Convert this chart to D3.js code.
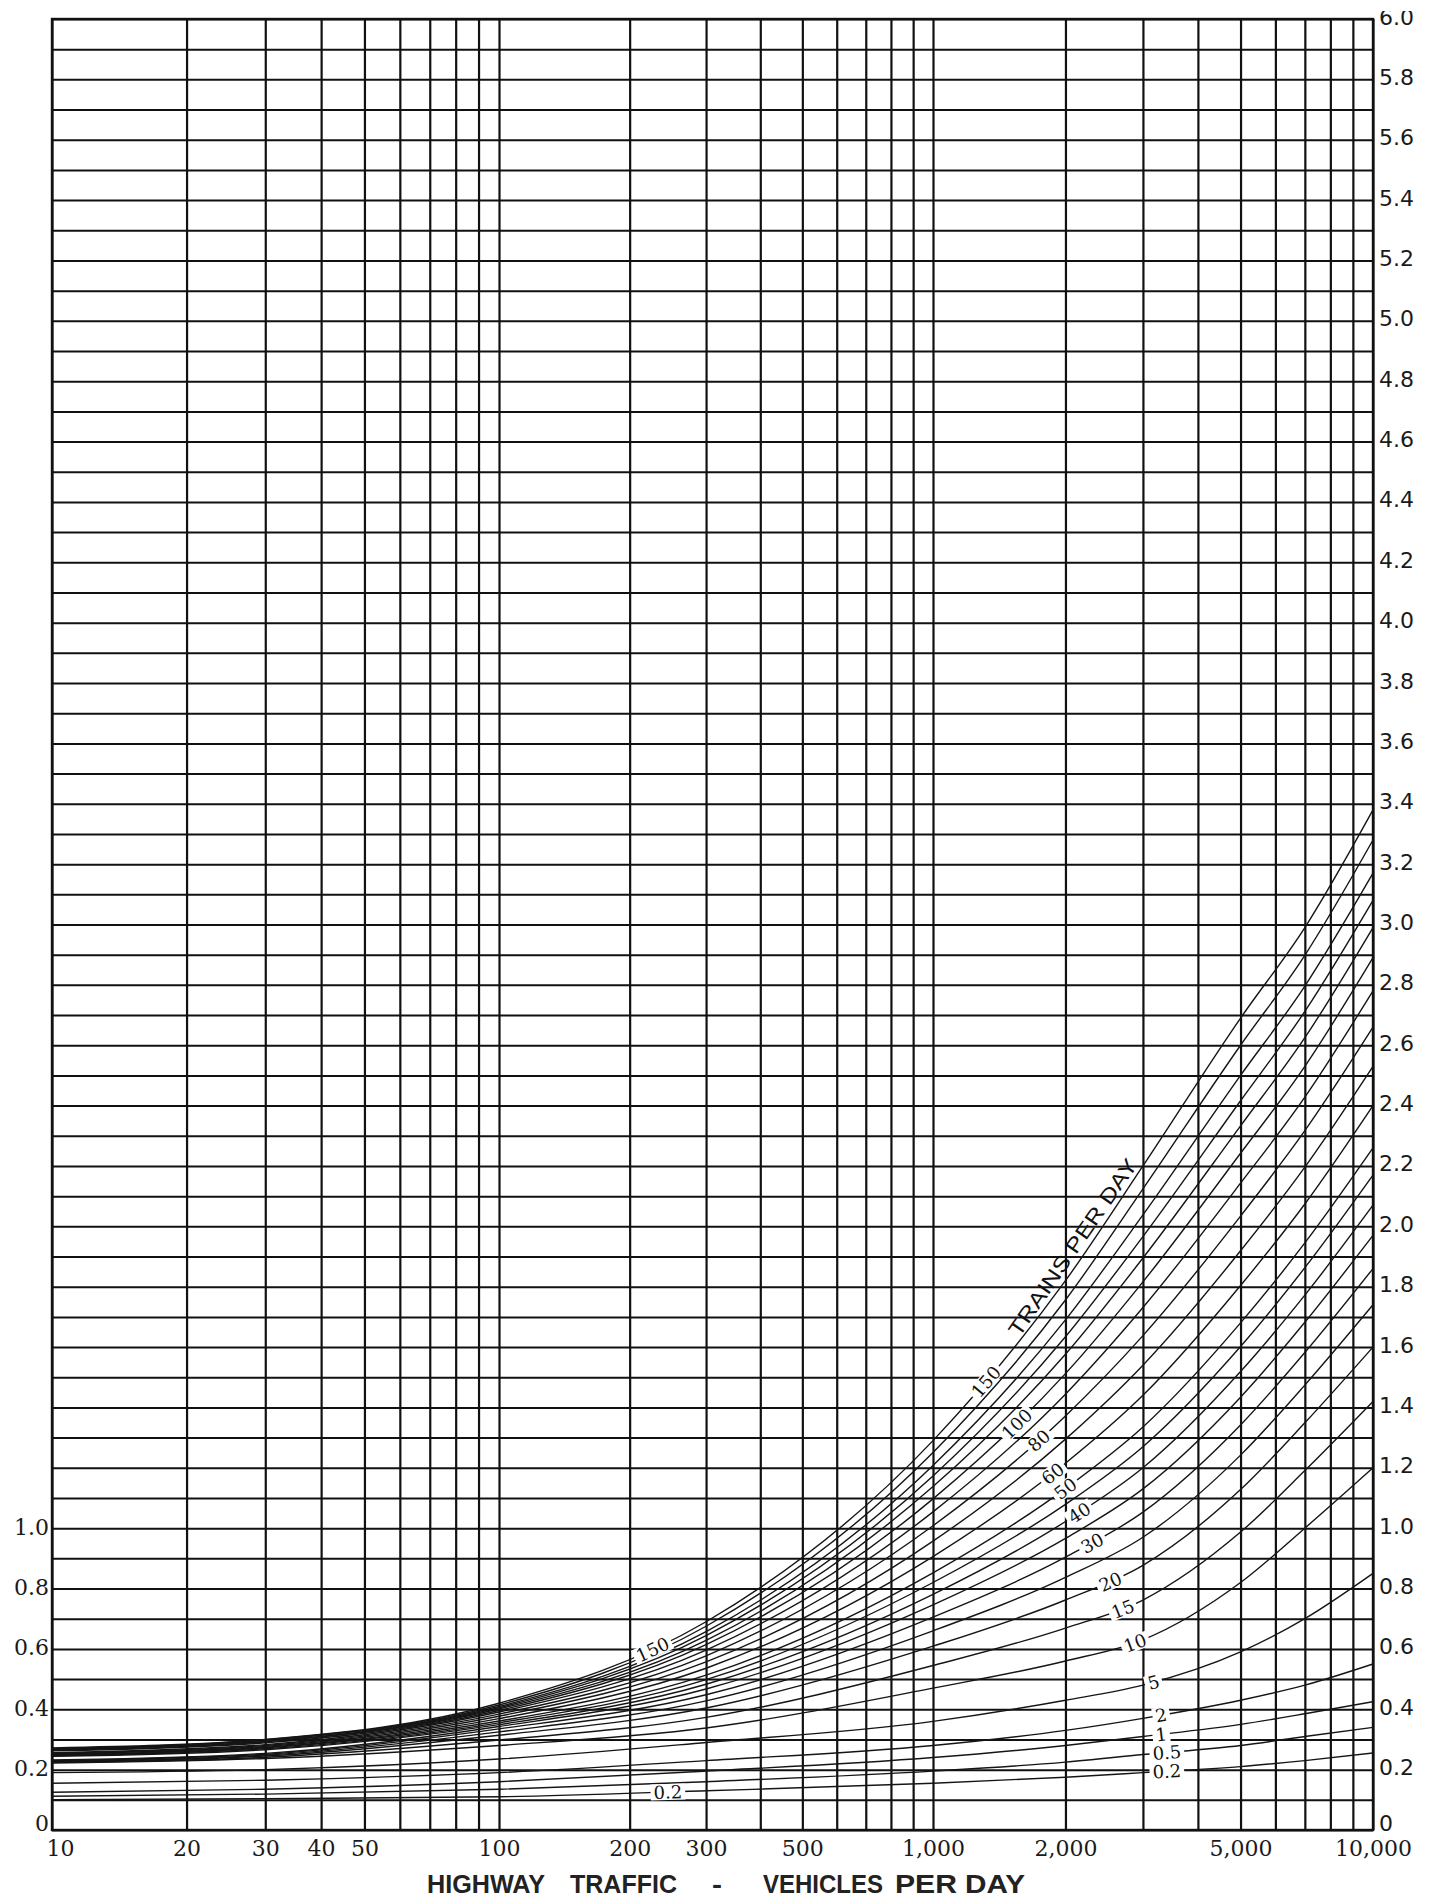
<!DOCTYPE html>
<html><head><meta charset="utf-8">
<script src="https://cdn.jsdelivr.net/npm/d3@7"></script>
<style>
html,body{margin:0;padding:0;background:#fff;}
svg{display:block;}
</style></head><body>
<svg id="chart" width="1437" height="1901"></svg>
<script>
// ---------- DATA ----------
const volumes = [10, 30, 100, 300, 1000, 2000, 3000, 5000, 7000, 10000];
const trainCounts = [0.2, 0.5, 1, 2, 5, 10, 15, 20, 25, 30, 35, 40, 45, 50, 60, 70, 80, 90, 100, 110, 120, 130, 140, 150];
const t0_2 = [0.10, 0.104, 0.11, 0.13, 0.155, 0.175, 0.19, 0.21, 0.23, 0.255];
const t0_5 = [0.112, 0.119, 0.135, 0.16, 0.195, 0.225, 0.25, 0.28, 0.31, 0.34];
const t1   = [0.125, 0.135, 0.16, 0.195, 0.24, 0.28, 0.31, 0.35, 0.385, 0.425];
const t2   = [0.155, 0.165, 0.19, 0.23, 0.28, 0.33, 0.37, 0.43, 0.48, 0.55];
const t5   = [0.19, 0.20, 0.235, 0.29, 0.36, 0.43, 0.48, 0.59, 0.70, 0.85];
const t10  = [0.222, 0.237, 0.28, 0.338, 0.47, 0.56, 0.63, 0.82, 1.00, 1.20];
const t15  = [0.224, 0.241, 0.298, 0.373, 0.545, 0.669, 0.762, 0.987, 1.191, 1.42];
const t20  = [0.226, 0.245, 0.314, 0.404, 0.609, 0.762, 0.877, 1.128, 1.349, 1.60];
const t25  = [0.228, 0.248, 0.325, 0.428, 0.66, 0.837, 0.97, 1.242, 1.474, 1.74];
const t30  = [0.23, 0.251, 0.335, 0.448, 0.705, 0.904, 1.053, 1.342, 1.582, 1.86];
const t35  = [0.232, 0.254, 0.343, 0.467, 0.746, 0.966, 1.13, 1.434, 1.682, 1.97];
const t40  = [0.244, 0.266, 0.349, 0.483, 0.781, 1.022, 1.2, 1.519, 1.772, 2.07];
const t45  = [0.246, 0.269, 0.355, 0.498, 0.82, 1.079, 1.27, 1.602, 1.863, 2.17];
const t50  = [0.248, 0.272, 0.361, 0.513, 0.852, 1.131, 1.335, 1.68, 1.945, 2.26];
const t60  = [0.25, 0.274, 0.369, 0.536, 0.906, 1.215, 1.44, 1.804, 2.074, 2.40];
const t70  = [0.252, 0.277, 0.377, 0.557, 0.957, 1.295, 1.54, 1.919, 2.196, 2.53];
const t80  = [0.254, 0.28, 0.384, 0.577, 1.008, 1.372, 1.638, 2.034, 2.317, 2.66];
const t90  = [0.256, 0.283, 0.391, 0.596, 1.054, 1.444, 1.731, 2.143, 2.428, 2.78];
const t100 = [0.262, 0.289, 0.396, 0.614, 1.097, 1.512, 1.816, 2.242, 2.53, 2.89];
const t110 = [0.264, 0.292, 0.401, 0.628, 1.138, 1.576, 1.895, 2.333, 2.625, 2.99];
const t120 = [0.266, 0.294, 0.405, 0.644, 1.173, 1.634, 1.966, 2.416, 2.712, 3.08];
const t130 = [0.268, 0.297, 0.409, 0.657, 1.208, 1.69, 2.038, 2.5, 2.796, 3.17];
const t140 = [0.27, 0.299, 0.414, 0.675, 1.251, 1.756, 2.124, 2.6, 2.898, 3.28];
const t150 = [0.272, 0.30, 0.42, 0.69, 1.29, 1.82, 2.20, 2.69, 2.99, 3.38];
const seriesList = [t0_2, t0_5, t1, t2, t5, t10, t15, t20, t25, t30, t35, t40, t45, t50, t60, t70, t80, t90, t100, t110, t120, t130, t140, t150];

// curve labels (train count, volume where the label sits)
const labelTrains  = [150, 100, 80, 60, 50, 40, 30, 20, 15, 10, 5, 2, 1, 0.5, 0.2];
const labelVolumes = [1320, 1550, 1740, 1870, 2000, 2150, 2300, 2530, 2700, 2880, 3170, 3300, 3300, 3400, 3400];
const labelTexts   = ["150", "100", "80", "60", "50", "40", "30", "20", "15", "10", "5", "2", "1", "0.5", "0.2"];
const lowLabelTrains  = [150, 0.2];
const lowLabelVolumes = [226, 245];
const lowLabelTexts   = ["150", "0.2"];
const seriesTitle = "TRAINS PER DAY";
const seriesTitleVolume = 2200;

// grid and tick labels
const xGridValues = [10,20,30,40,50,60,70,80,90,100,200,300,400,500,600,700,800,900,1000,2000,3000,4000,5000,6000,7000,8000,9000,10000];
const xTickValues = [10, 20, 30, 40, 50, 100, 200, 300, 500, 1000, 2000, 5000, 10000];
const xTickLabels = ["10", "20", "30", "40", "50", "100", "200", "300", "500", "1,000", "2,000", "5,000", "10,000"];
const yGridValues = d3.range(0, 61).map(i => i / 10);
const rightTickValues = [0,0.2,0.4,0.6,0.8,1.0,1.2,1.4,1.6,1.8,2.0,2.2,2.4,2.6,2.8,3.0,3.2,3.4,3.6,3.8,4.0,4.2,4.4,4.6,4.8,5.0,5.2,5.4,5.6,5.8,6.0];
const rightTickLabels = ["0","0.2","0.4","0.6","0.8","1.0","1.2","1.4","1.6","1.8","2.0","2.2","2.4","2.6","2.8","3.0","3.2","3.4","3.6","3.8","4.0","4.2","4.4","4.6","4.8","5.0","5.2","5.4","5.6","5.8","6.0"];
const leftTickValues = [0, 0.2, 0.4, 0.6, 0.8, 1.0];
const leftTickLabels = ["0", "0.2", "0.4", "0.6", "0.8", "1.0"];
const titleWords = ["HIGHWAY", "TRAFFIC", "-", "VEHICLES", "PER", "DAY"];

// ---------- LAYOUT ----------
const W = 1437, H = 1901;
const L = 52, R = 1373, T = 19, B = 1830;
const svg = d3.select("#chart");
const x = d3.scaleLog().domain([10, 100, 1000, 10000]).range([L, 499, 933, R]);
const y = d3.scaleLinear().domain([0, 6]).range([B, T]);

// grid via axes
const vGrid = svg.append("g").attr("transform", `translate(0,${B})`)
  .call(d3.axisBottom(x).tickValues(xGridValues).tickSize(-(B - T)).tickFormat(""));
vGrid.select(".domain").remove();
vGrid.selectAll("line").attr("stroke", "#111").attr("stroke-width", 2.2);

const hGrid = svg.append("g").attr("transform", `translate(${R},0)`)
  .call(d3.axisRight(y).tickValues(yGridValues).tickSize(-(R - L)).tickFormat(""));
hGrid.select(".domain").remove();
hGrid.selectAll("line").attr("stroke", "#111").attr("stroke-width", 2);

// border
svg.append("rect").attr("x", L).attr("y", T).attr("width", R - L).attr("height", B - T)
  .attr("fill", "none").attr("stroke", "#111").attr("stroke-width", 2.4);

// curves
const line = d3.line().x(d => x(d[0])).y(d => y(d[1])).curve(d3.curveMonotoneX);
const curves = trainCounts.map((t, i) => ({ t, pts: volumes.map((v, j) => [v, seriesList[i][j]]) }));
const curveG = svg.append("g");
const paths = {};
curves.forEach(c => {
  paths[c.t] = curveG.append("path").attr("d", line(c.pts))
    .attr("fill", "none").attr("stroke", "#151515").attr("stroke-width", 1.4).node();
});

function pointAtX(node, tx) {
  const len = node.getTotalLength();
  let lo = 0, hi = len;
  for (let k = 0; k < 40; k++) {
    const m = (lo + hi) / 2;
    if (node.getPointAtLength(m).x < tx) lo = m; else hi = m;
  }
  const m = (lo + hi) / 2;
  const p = node.getPointAtLength(m);
  const a = node.getPointAtLength(Math.max(0, m - 5));
  const b = node.getPointAtLength(Math.min(len, m + 5));
  return { x: p.x, y: p.y, angle: Math.atan2(b.y - a.y, b.x - a.x) * 180 / Math.PI };
}

function curveLabel(t, vol, txt) {
  const p = pointAtX(paths[t], x(vol));
  const g = svg.append("g").attr("transform", `translate(${p.x},${p.y}) rotate(${p.angle})`);
  const rect = g.append("rect").attr("fill", "#fff");
  const tx = g.append("text").text(txt)
    .attr("text-anchor", "middle").attr("dominant-baseline", "central")
    .attr("font-family", "DejaVu Serif, serif").attr("font-size", 18).attr("fill", "#111");
  const bb = tx.node().getBBox();
  rect.attr("x", bb.x - 3).attr("y", -8).attr("width", bb.width + 6).attr("height", 16);
}
labelTrains.forEach((t, i) => curveLabel(t, labelVolumes[i], labelTexts[i]));
lowLabelTrains.forEach((t, i) => curveLabel(t, lowLabelVolumes[i], lowLabelTexts[i]));

// series title along top curve
{
  const p = pointAtX(paths[150], x(seriesTitleVolume));
  svg.append("text").text(seriesTitle)
    .attr("transform", `translate(${p.x},${p.y}) rotate(${p.angle})`)
    .attr("y", -6).attr("text-anchor", "middle")
    .attr("font-family", "Liberation Sans, Arial, sans-serif").attr("font-size", 21)
    .attr("textLength", 210).attr("lengthAdjust", "spacingAndGlyphs").attr("fill", "#111");
}

// right axis labels
svg.append("defs").append("clipPath").attr("id", "topclip")
  .append("rect").attr("x", 0).attr("y", 11).attr("width", W).attr("height", H);
const rightG = svg.append("g").attr("clip-path", "url(#topclip)");
rightG.selectAll("text").data(rightTickValues).join("text")
  .attr("x", R + 6).attr("y", d => y(d) - (d === 0 ? 7 : 2))
  .attr("dominant-baseline", "central")
  .attr("font-family", "DejaVu Sans, sans-serif").attr("font-size", 22).attr("fill", "#1a1a1a")
  .text((d, i) => rightTickLabels[i]);

// left axis labels
svg.append("g").selectAll("text").data(leftTickValues).join("text")
  .attr("x", L - 3).attr("y", d => y(d) - (d === 0 ? 7 : 1))
  .attr("text-anchor", "end").attr("dominant-baseline", "central")
  .attr("font-family", "DejaVu Serif, serif").attr("font-size", 22).attr("fill", "#1a1a1a")
  .text((d, i) => leftTickLabels[i]);

// bottom axis labels
const xAxis = svg.append("g").attr("transform", `translate(0,${B})`)
  .call(d3.axisBottom(x).tickValues(xTickValues).tickSize(0).tickPadding(10)
    .tickFormat((d, i) => xTickLabels[i]));
xAxis.select(".domain").remove();
xAxis.selectAll("text")
  .attr("font-family", "DejaVu Serif, serif").attr("font-size", 22).attr("fill", "#1a1a1a")
  .attr("dx", (d, i) => i === 0 ? 8 : 0);

// title
const titleStarts = [427, 570, 712, 763, 895, 965];
const titleLens = [118, 107, 10, 120, 62, 60];
svg.append("g").selectAll("text").data(titleWords).join("text")
  .attr("x", (d, i) => titleStarts[i]).attr("y", 1893)
  .attr("textLength", (d, i) => titleLens[i]).attr("lengthAdjust", "spacingAndGlyphs")
  .attr("font-family", "Liberation Sans, Arial, sans-serif").attr("font-weight", "bold")
  .attr("font-size", 26).attr("fill", "#222")
  .text(d => d);
</script>
</body></html>
